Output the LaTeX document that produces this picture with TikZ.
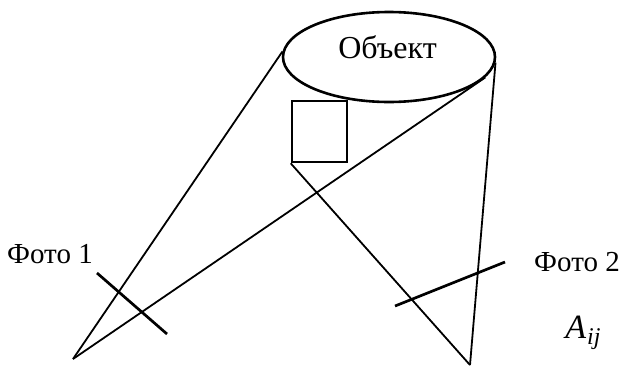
\documentclass[tikz,border=0pt]{standalone}
\usepackage{fontspec}
\setmainfont{Liberation Serif}
\usetikzlibrary{shapes.geometric}

\begin{document}
\begin{tikzpicture}[
  x=1pt, y=-1pt,
  font=\fontsize{29}{33}\selectfont,
  ray/.style={line width=1.8pt},
  plane/.style={line width=2.7pt},
  objbox/.style={draw=black, line width=2.6pt}
]
  \useasboundingbox (0,0) rectangle (621,370);
  % object and its patch
  \node[objbox, ellipse, minimum width=212pt, minimum height=90pt, inner sep=0pt] (obj) at (389,57) {};
  \node[font=\fontsize{32}{36}\selectfont] at (387.5,47) {Объект};
  \node[objbox, minimum width=55pt, minimum height=61pt, inner sep=0pt] (patch) at (319.5,131.5) {};

  % camera centres
  \coordinate (cam1) at (73,359);
  \coordinate (cam2) at (470,365);

  % rays
  \draw[ray] (cam1) -- (obj.177);
  \draw[ray] (cam1) -- (obj.-12);
  \draw[ray] (cam2) -- (obj.-3);
  \draw[ray] (cam2) -- (patch.south west);

  % image planes
  \coordinate (f1a) at (97,273);
  \coordinate (f1b) at (167,334);
  \coordinate (f2a) at (395,306);
  \coordinate (f2b) at (505,262);
  \draw[plane] (f1a) -- (f1b);
  \draw[plane] (f2a) -- (f2b);

  % labels
  \node (lbl1) at (50,254) {Фото 1};
  \node (lbl2) at (577,262) {Фото 2};
  \node[font=\fontsize{34}{38}\selectfont] (lblA) at (583,333) {\itshape A\kern1pt\raisebox{-6pt}{\fontsize{24}{26}\selectfont ij}};
\end{tikzpicture}
\end{document}
